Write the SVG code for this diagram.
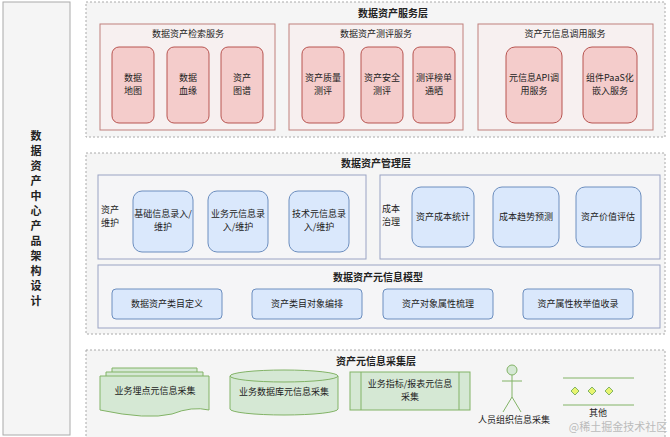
<svg xmlns="http://www.w3.org/2000/svg" width="670" height="437" viewBox="0 0 670 437">
<style>
text{font-family:"Noto Sans CJK SC","Liberation Sans",sans-serif;font-size:9px;fill:#222;text-anchor:middle}
.t{font-size:10px;font-weight:bold}
.v{font-size:11px;font-weight:bold}
.layer{fill:#f5f5f5;stroke:#aaa;stroke-dasharray:2 2}
.ps{fill:#f7f0f0;stroke:#c0807d}
.bs{fill:#f5f5f7;stroke:#9aa3c4}
.pk{fill:#f4cccb;stroke:#b85450}
.bl{fill:#dae8fc;stroke:#6c8ebf}
.gr{fill:#d5e8d4;stroke:#82b366}
</style>
<rect width="670" height="437" fill="#fff"/>
<g id="title"><rect x="3" y="2" width="67" height="433" fill="#f5f5f5" stroke="#aaa"/>
<text class="v" x="36" y="140">数</text><text class="v" x="36" y="155">据</text><text class="v" x="36" y="170">资</text><text class="v" x="36" y="185">产</text><text class="v" x="36" y="200">中</text><text class="v" x="36" y="215">心</text><text class="v" x="36" y="230">产</text><text class="v" x="36" y="245">品</text><text class="v" x="36" y="260">架</text><text class="v" x="36" y="275">构</text><text class="v" x="36" y="290">设</text><text class="v" x="36" y="305">计</text></g>
<g id="service">
<rect class="layer" x="86" y="2" width="579" height="135"/>
<text class="t" x="393" y="17">数据资产服务层</text>
<rect class="ps" x="100" y="24" width="175" height="106"/><text x="188" y="37">数据资产检索服务</text>
<rect class="pk" x="112" y="47" width="42" height="76" rx="7"/><text x="133" y="81">数据</text><text x="133" y="94">地图</text>
<rect class="pk" x="167" y="47" width="42" height="76" rx="7"/><text x="188" y="81">数据</text><text x="188" y="94">血缘</text>
<rect class="pk" x="221" y="47" width="42" height="76" rx="7"/><text x="242" y="81">资产</text><text x="242" y="94">图谱</text>
<rect class="ps" x="289" y="24" width="174" height="106"/><text x="376" y="37">数据资产测评服务</text>
<rect class="pk" x="302" y="47" width="42" height="76" rx="7"/><text x="323" y="81">资产质量</text><text x="323" y="94">测评</text>
<rect class="pk" x="361" y="47" width="42" height="76" rx="7"/><text x="382" y="81">资产安全</text><text x="382" y="94">测评</text>
<rect class="pk" x="413" y="47" width="42" height="76" rx="7"/><text x="434" y="81">测评榜单</text><text x="434" y="94">通晒</text>
<rect class="ps" x="478" y="24" width="175" height="106"/><text x="565" y="37">资产元信息调用服务</text>
<rect class="pk" x="506" y="47" width="56" height="76" rx="9"/><text x="534" y="81">元信息API调</text><text x="534" y="94">用服务</text>
<rect class="pk" x="583" y="47" width="54" height="76" rx="9"/><text x="610" y="81">组件PaaS化</text><text x="610" y="94">嵌入服务</text>
</g>
<g id="manage">
<rect class="layer" x="86" y="153" width="579" height="181"/>
<text class="t" x="376" y="167">数据资产管理层</text>
<rect class="bs" x="98" y="175" width="268" height="84"/>
<text x="110" y="213">资产</text><text x="110" y="226">维护</text>
<rect class="bl" x="133" y="191" width="60" height="61" rx="9"/><text x="163" y="217">基础信息录入/</text><text x="163" y="230">维护</text>
<rect class="bl" x="208" y="191" width="60" height="61" rx="9"/><text x="238" y="217">业务元信息录</text><text x="238" y="230">入/维护</text>
<rect class="bl" x="289" y="191" width="60" height="61" rx="9"/><text x="319" y="217">技术元信息录</text><text x="319" y="230">入/维护</text>
<rect class="bs" x="380" y="175" width="280" height="84"/>
<text x="391" y="212">成本</text><text x="391" y="225">治理</text>
<rect class="bl" x="412" y="187" width="62" height="60" rx="9"/><text x="443" y="220">资产成本统计</text>
<rect class="bl" x="493" y="187" width="66" height="60" rx="9"/><text x="526" y="220">成本趋势预测</text>
<rect class="bl" x="576" y="187" width="65" height="60" rx="9"/><text x="608" y="220">资产价值评估</text>
<rect class="bs" x="98" y="265" width="562" height="63"/>
<text class="t" x="378" y="281">数据资产元信息模型</text>
<rect class="bl" x="112" y="289" width="110" height="30" rx="4"/><text x="167" y="307">数据资产类目定义</text>
<rect class="bl" x="252" y="289" width="110" height="30" rx="4"/><text x="307" y="307">资产类目对象编排</text>
<rect class="bl" x="383" y="289" width="110" height="30" rx="4"/><text x="438" y="307">资产对象属性梳理</text>
<rect class="bl" x="523" y="289" width="110" height="30" rx="4"/><text x="578" y="307">资产属性枚举值收录</text>
</g>
<g id="collect">
<rect class="layer" x="86" y="350" width="579" height="90"/>
<text class="t" x="376" y="365">资产元信息采集层</text>
<g id="doc">
<path class="gr" d="M112,368 H197 V402 Q180,398 160,406 Q135,412 112,402 Z"/>
<path class="gr" d="M106,372 H203 V406 Q186,402 166,410 Q141,416 106,406 Z"/>
<path class="gr" d="M100,376 H209 V410 Q192,406 172,414 Q147,420 100,410 Z"/>
<text x="155" y="394">业务埋点元信息采集</text></g>
<g id="db"><path class="gr" d="M230,376 V409 A54,6 0 0 0 338,409 V376"/><ellipse class="gr" cx="284" cy="376" rx="54" ry="6"/><text x="284" y="395">业务数据库元信息采集</text></g>
<g id="proc"><rect class="gr" x="350" y="372" width="120" height="38"/><line x1="361" y1="372" x2="361" y2="410" stroke="#82b366"/><line x1="459" y1="372" x2="459" y2="410" stroke="#82b366"/><text x="410" y="387">业务指标/报表元信息</text><text x="410" y="400">采集</text></g>
<g id="actor"><circle cx="512" cy="370" r="5" fill="#d5e8d4" stroke="#82b366"/><path d="M512,375 V397 M502,381 H522 M512,397 L503,412 M512,397 L521,412" fill="none" stroke="#82b366"/></g>
<text x="514" y="423">人员组织信息采集</text>
<g id="other"><line x1="563" y1="378" x2="634" y2="378" stroke="#82b366"/><line x1="563" y1="405" x2="634" y2="405" stroke="#82b366"/>
<path d="M575,387 l4,4 -4,4 -4,-4z M592,387 l4,4 -4,4 -4,-4z M609,387 l4,4 -4,4 -4,-4z" fill="#e8f570" stroke="#82b366"/>
<text x="598" y="416">其他</text></g>
<text x="618" y="431" style="font-size:11px;fill:#bbb">@稀土掘金技术社区</text>
</g>
</svg>
